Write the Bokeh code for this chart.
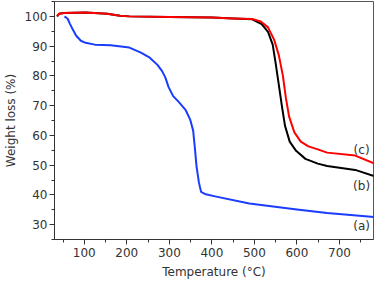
from bokeh.plotting import figure
from bokeh.models import Range1d, SingleIntervalTicker, Label
from bokeh.embed import file_html
from bokeh.resources import INLINE

# (a) blue
temp_a = [53.5, 61, 66.6, 74, 81, 92, 103, 125, 162, 206, 232, 254, 272, 283, 290.5, 298,
          309, 323, 338, 349, 356, 360, 364, 369.5, 374.6, 385.6, 407.5, 488, 600, 671, 781]
wt_a = [100, 99.2, 97.4, 95.3, 93.5, 91.8, 91.1, 90.5, 90.3, 89.5, 87.9, 86.1, 83.7, 81.6, 79.5, 76.3,
        73.2, 71.1, 68.6, 65.3, 61.6, 55.8, 49.5, 44.2, 41, 40.2, 39.5, 37.1, 35.1, 33.9, 32.6]

# (b) black
temp_b = [36, 41, 52, 103, 154, 184, 206, 300, 400, 451, 495, 517, 532, 543, 550, 557.5,
          565, 572, 583, 598, 620, 649, 671, 737, 781]
wt_b = [100, 100.9, 101.1, 101.3, 100.9, 100.2, 100, 99.8, 99.6, 99.3, 99, 97.4, 94.8, 90.5,
        84.2, 76.9, 69.5, 63.2, 57.9, 54.8, 52.1, 50.5, 49.7, 48.4, 46.3]

# (c) red
temp_c = [36, 41, 52, 103, 154, 184, 206, 300, 400, 451, 495, 515, 532, 546.5, 557.5, 567,
          574, 581.6, 594, 609, 627, 649, 671, 737, 781]
wt_c = [100, 100.9, 101.1, 101.3, 100.9, 100.2, 100, 99.8, 99.6, 99.3, 99.1, 98.3, 96.3, 92.1,
        86.9, 80, 72.6, 66.3, 61, 57.9, 56.3, 55.3, 54.2, 53.2, 50.6]

labels = ["(a)", "(b)", "(c)"]
label_x = [752, 752, 752]
label_y = [29.5, 42.9, 55]

FONT = "DejaVu Sans"
AX = "#333333"

p = figure(width=376, height=281, output_backend="svg", toolbar_location=None,
           x_range=Range1d(30, 780), y_range=Range1d(25, 105),
           min_border_left=0, min_border_right=3, min_border_top=1, min_border_bottom=0)
p.background_fill_color = "white"
p.border_fill_color = "white"
p.outline_line_color = "#555555"
p.outline_line_width = 1
p.grid.visible = False

p.line(temp_a, wt_a, color="#1a3cff", line_width=2, line_join="round")
p.line(temp_b, wt_b, color="black", line_width=2, line_join="round")
p.line(temp_c, wt_c, color="#ff0000", line_width=2, line_join="round")

for t, x, y in zip(labels, label_x, label_y):
    p.add_layout(Label(x=x, y=y, text=t, text_font=FONT, text_font_size="12px",
                       text_color="#333333", text_align="center", text_baseline="middle"))

p.xaxis.ticker = SingleIntervalTicker(interval=100, num_minor_ticks=2)
p.yaxis.ticker = SingleIntervalTicker(interval=10, num_minor_ticks=2)

for ax in (p.xaxis[0], p.yaxis[0]):
    ax.axis_line_color = AX
    ax.major_tick_line_color = AX
    ax.minor_tick_line_color = AX
    ax.major_tick_in = 0
    ax.major_tick_out = 5
    ax.minor_tick_in = 0
    ax.minor_tick_out = 3
    ax.major_label_text_font = FONT
    ax.major_label_text_font_size = "12px"
    ax.major_label_text_color = "#333333"
    ax.axis_label_text_font = FONT
    ax.axis_label_text_font_size = "12px"
    ax.axis_label_text_font_style = "normal"
    ax.axis_label_text_color = "#333333"

p.xaxis.axis_label = "Temperature (°C)"
p.yaxis.axis_label = "Weight loss (%)"
p.xaxis.major_label_standoff = 3
p.xaxis.axis_label_standoff = 5
p.yaxis.major_label_standoff = 2
p.yaxis.axis_label_standoff = 4

open("out.html", "w").write(file_html(p, INLINE))
